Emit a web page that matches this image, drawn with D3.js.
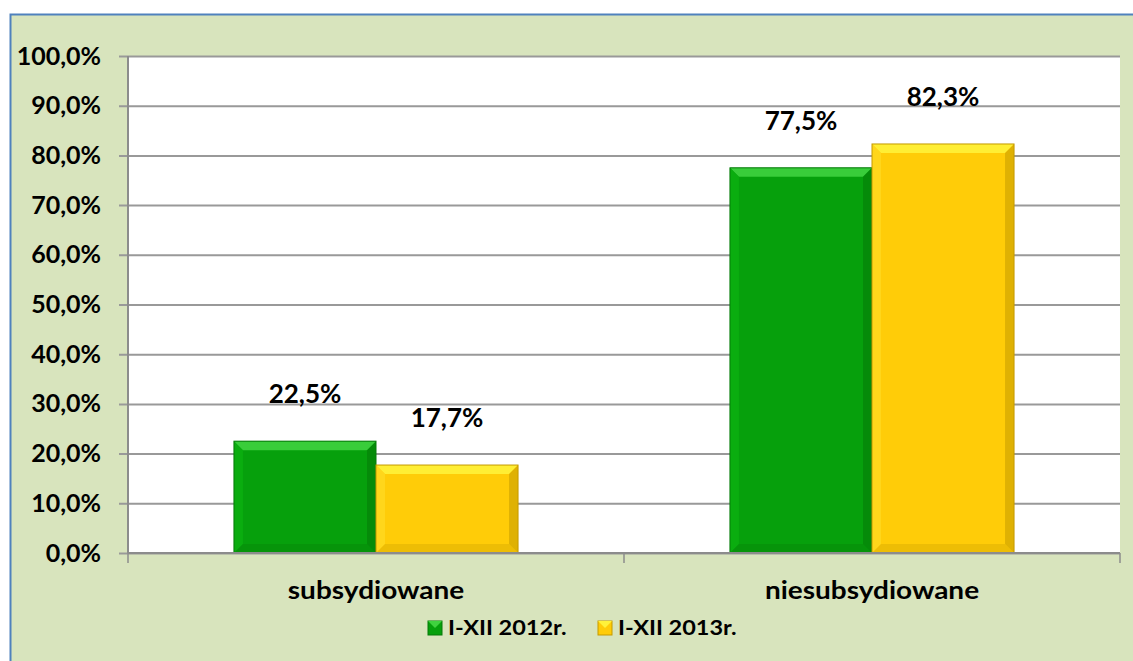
<!DOCTYPE html>
<html>
<head>
<meta charset="utf-8">
<script src="https://cdn.jsdelivr.net/npm/d3@7/dist/d3.min.js"></script>
<style>
  body { margin: 0; background: #ffffff; }
  svg text { font-family: Lato, 'Open Sans', sans-serif; font-weight: bold; fill: #000; }
</style>
</head>
<body>
<svg id="chart" width="1133" height="661"></svg>
<script>
// ===== data =====
var categories = ['subsydiowane', 'niesubsydiowane']
var seriesNames = ['I-XII 2012r.', 'I-XII 2013r.']
var values2012 = [22.5, 77.5]
var values2013 = [17.7, 82.3]
var yTicks = [0, 10, 20, 30, 40, 50, 60, 70, 80, 90, 100]

var colors = [
  { fill: '#06a00c', light: '#3fd23f', side: '#0bb010', dark: '#057a08' },
  { fill: '#ffcc08', light: '#fff23a', side: '#ffd820', dark: '#c49a00' }
]

var svg = d3.select('#chart')

// outer chart area
svg.append('rect')
  .attr('x', 10.5).attr('y', 14.5)
  .attr('width', 1140).attr('height', 660)
  .attr('fill', '#d8e4bd')
  .attr('stroke', '#4f81bd')
  .attr('stroke-width', 2)

// plot box (don't use "top" - it's window.top)
var plotL = 128, plotR = 1120, plotT = 56, plotB = 553

var x0 = d3.scaleBand().domain(categories).range([plotL, plotR]).paddingInner(0).paddingOuter(0)
var x1 = d3.scaleBand().domain(seriesNames).range([0, x0.bandwidth()]).paddingInner(0).paddingOuter(0.746)
var y = d3.scaleLinear().domain([0, 100]).range([plotB, plotT])

// plot background
svg.append('rect')
  .attr('x', plotL).attr('y', plotT)
  .attr('width', plotR - plotL).attr('height', plotB - plotT)
  .attr('fill', '#ffffff')

// gridlines + y axis
var yAxis = d3.axisLeft(y)
  .tickValues(yTicks)
  .tickSize(-(plotR - plotL))
  .tickPadding(27)
  .tickFormat(function (d) { return d3.format('.1f')(d).replace('.', ',') + '%' })

var gy = svg.append('g')
  .attr('transform', 'translate(' + plotL + ',0)')
  .call(yAxis)
gy.select('.domain').remove()
gy.selectAll('.tick line')
  .attr('x1', -9)
  .attr('stroke', '#999999')
  .attr('stroke-width', 2)
gy.selectAll('.tick text')
  .attr('font-size', 25)
  .attr('font-family', 'Lato, sans-serif')
  .attr('font-weight', 'bold')
  .attr('fill', '#000')

svg.append('line')
  .attr('x1', plotL).attr('x2', plotL)
  .attr('y1', plotT).attr('y2', plotB)
  .attr('stroke', '#8c8c8c').attr('stroke-width', 2)

// bars
var data = []
categories.forEach(function (c, i) {
  data.push({ cat: c, s: 0, v: values2012[i] })
  data.push({ cat: c, s: 1, v: values2013[i] })
})

var bars = svg.append('g').selectAll('g')
  .data(data)
  .enter()
  .append('g')

var bev = 9
bars.each(function (d) {
  var g = d3.select(this)
  var bx = x0(d.cat) + x1(seriesNames[d.s])
  var bw = x1.bandwidth()
  var by = y(d.v)
  var bh = plotB - by
  var c = colors[d.s]
  g.append('rect').attr('x', bx).attr('y', by).attr('width', bw).attr('height', bh).attr('fill', c.fill)
  // bevel edges
  var pts = function (arr) { return arr.map(function (p) { return p.join(',') }).join(' ') }
  g.append('polygon').attr('fill', c.light).attr('opacity', 0.9)
    .attr('points', pts([[bx, by], [bx + bw, by], [bx + bw - bev, by + bev], [bx + bev, by + bev]]))
  g.append('polygon').attr('fill', c.side).attr('opacity', 0.8)
    .attr('points', pts([[bx, by], [bx + bev, by + bev], [bx + bev, plotB - bev], [bx, plotB]]))
  g.append('polygon').attr('fill', c.dark).attr('opacity', 0.55)
    .attr('points', pts([[bx + bw, by], [bx + bw, plotB], [bx + bw - bev, plotB - bev], [bx + bw - bev, by + bev]]))
  g.append('polygon').attr('fill', c.dark).attr('opacity', 0.3)
    .attr('points', pts([[bx, plotB], [bx + bw, plotB], [bx + bw - bev, plotB - bev], [bx + bev, plotB - bev]]))
  g.append('rect').attr('x', bx).attr('y', by).attr('width', bw).attr('height', bh)
    .attr('fill', 'none').attr('stroke', c.dark).attr('stroke-width', 1)

  // value label
  svg.append('text')
    .attr('x', bx + bw / 2)
    .attr('y', by - 38)
    .attr('text-anchor', 'middle')
    .attr('font-size', 26)
    .text(d3.format('.1f')(d.v).replace('.', ',') + '%')
})

// x axis
svg.append('line')
  .attr('x1', plotL).attr('x2', plotR)
  .attr('y1', plotB).attr('y2', plotB)
  .attr('stroke', '#8c8c8c').attr('stroke-width', 2)

var xTicks = [plotL].concat(categories.map(function (c) { return x0(c) + x0.bandwidth() }))
svg.selectAll('.xtick')
  .data(xTicks)
  .enter()
  .append('line')
  .attr('x1', function (d) { return d }).attr('x2', function (d) { return d })
  .attr('y1', plotB).attr('y2', plotB + 10)
  .attr('stroke', '#8c8c8c').attr('stroke-width', 1.5)

// category labels (reference text is a bit wider, stretch horizontally)
svg.selectAll('.xlabel')
  .data(categories)
  .enter()
  .append('text')
  .attr('transform', function (d) { return 'translate(' + (x0(d) + x0.bandwidth() / 2) + ',599) scale(1.12,1)' })
  .attr('text-anchor', 'middle')
  .attr('font-size', 25)
  .text(function (d) { return d })

// legend
var legendX = [428, 598]
seriesNames.forEach(function (name, i) {
  var c = colors[i]
  var lx = legendX[i]
  svg.append('rect').attr('x', lx).attr('y', 621).attr('width', 14).attr('height', 14)
    .attr('fill', c.fill).attr('stroke', c.dark).attr('stroke-width', 1)
  svg.append('polygon').attr('fill', c.light)
    .attr('points', [[lx, 621], [lx + 14, 621], [lx + 7, 628]].map(function (p) { return p.join(',') }).join(' '))
  svg.append('text')
    .attr('transform', 'translate(' + (lx + 20) + ',635) scale(1.12,1)')
    .attr('font-size', 21)
    .text(name)
})
</script>
</body>
</html>
